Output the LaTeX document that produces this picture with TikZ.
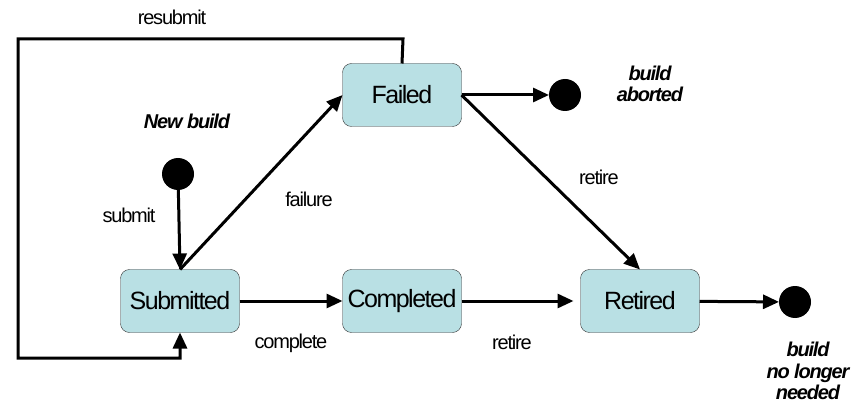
\documentclass[tikz,border=0pt]{standalone}
\usepackage{fontspec}
\setmainfont{Liberation Sans}[LetterSpace=-6]
\usetikzlibrary{arrows.meta}
\definecolor{statefill}{RGB}{185,224,228}
\begin{document}
\begin{tikzpicture}[x=1pt,y=-1pt]
\tikzset{ >={Triangle[length=16pt,width=14pt]}, inner sep=0pt, outer sep=0pt,
  state/.style={draw=black!80, fill=statefill, rounded corners=9pt, minimum width=119pt, minimum height=63pt, font=\fontsize{25}{27}\selectfont},
  dot/.style={fill=black, circle, minimum size=32pt},
  lbl/.style={font=\fontsize{20}{22}\selectfont},
  ilbl/.style={font=\fontsize{20}{21.5}\selectfont\bfseries\itshape, align=center},
  trans/.style={->, line width=3pt},
}
\useasboundingbox (0,0) rectangle (865,406);
%\draw [lightgray, dashed](0,0) grid (865,406);

\node [state] (F) at (402,95) {Failed};
\node [state] (S) at (180,301) {Submitted};
\node [state] (C) at (402,301) {Completed};
\node [state] (R) at (640,301) {Retired};

\node [dot] (NEW) at (178,174) {};
\node [dot] (ABT) at (565,95) {};
\node [dot] (END) at (795,302) {};

\coordinate (Q1) at (403,39);
\coordinate (Q2) at (18,39);
\coordinate (Q3) at (18,358);
\coordinate (Q4) at (180,358);

\draw [trans] (NEW) -- (S.north);
\draw [trans] (S.north) -- (F.west);
\draw [trans] (F.east) -- (ABT);
\draw [trans] (F.east) -- (R.north);
\draw [trans] (S) -- (C);
\draw [trans, shorten >=7pt] (C) -- (R);
\draw [trans] (R) -- (END);
\draw [trans, line join=miter] (F.north) -- (Q1) -- (Q2) -- (Q3) -- (Q4) -- (S.south);

\node [lbl] (L1) at (172,17) {resubmit};
\node [lbl] (L2) at (129,215) {submit};
\node [lbl] (L3) at (309,199) {failure};
\node [lbl] (L4) at (291,343) {complete};
\node [lbl] (L5) at (512,342) {retire};
\node [lbl] (L6) at (599,177) {retire};

\node [ilbl] (T1) at (187,121) {New build};
\node [ilbl] (T2) at (650,84) {build\\aborted};
\node [ilbl] (T3) at (808,371) {build\\no longer\\needed};

\end{tikzpicture}
\end{document}
